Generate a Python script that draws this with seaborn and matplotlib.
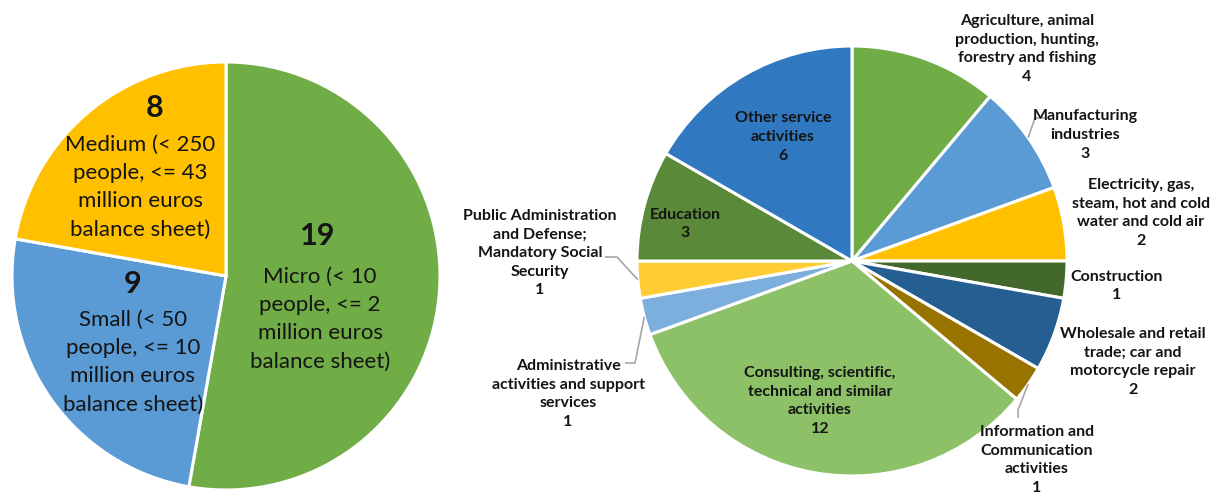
import matplotlib
matplotlib.use("Agg")
import matplotlib.pyplot as plt
import numpy as np
import seaborn as sns

# ---- data ----
size_labels = [
    "Micro (< 10\npeople, <= 2\nmillion euros\nbalance sheet)",
    "Small (< 50\npeople, <= 10\nmillion euros\nbalance sheet)",
    "Medium (< 250\npeople, <= 43\nmillion euros\nbalance sheet)",
]
size_counts = [19, 9, 8]

sector_labels = [
    "Agriculture, animal\nproduction, hunting,\nforestry and fishing",
    "Manufacturing\nindustries",
    "Electricity, gas,\nsteam, hot and cold\nwater and cold air",
    "Construction",
    "Wholesale and retail\ntrade; car and\nmotorcycle repair",
    "Information and\nCommunication\nactivities",
    "Consulting, scientific,\ntechnical and similar\nactivities",
    "Administrative\nactivities and support\nservices",
    "Public Administration\nand Defense;\nMandatory Social\nSecurity",
    "Education",
    "Other service\nactivities",
]
sector_counts = [4, 3, 2, 1, 2, 1, 12, 1, 1, 3, 6]

# ---- styling ----
size_colors = ["#70AD47", "#5B9BD5", "#FFC000"]
sector_colors = ["#70AD47", "#5B9BD5", "#FFC000", "#43682B", "#255E91", "#997300",
                 "#8CC168", "#7CAFDD", "#FFCD33", "#5A8A39", "#3079C0"]

W, H = 1219, 497

sns.set_theme(style="white")
plt.rcParams["font.family"] = ["Lato", "DejaVu Sans"]

fig = plt.figure(figsize=(W / 100, H / 100), dpi=100)
ax = fig.add_axes([0, 0, 1, 1])

def flip(y):
    return H - y

# pie geometry (pixel units, image-style y)
left_c, left_r = (226, 276), 214
right_c, right_r = (852, 261), 215

wp = dict(edgecolor="white", linewidth=2.2)
ax.pie(size_counts, colors=size_colors, startangle=90, counterclock=False,
       center=(left_c[0], flip(left_c[1])), radius=left_r, wedgeprops=wp)
ax.pie(sector_counts, colors=sector_colors, startangle=90, counterclock=False,
       center=(right_c[0], flip(right_c[1])), radius=right_r, wedgeprops=wp)

ax.set_xlim(0, W)
ax.set_ylim(0, H)
ax.set_aspect("auto")
ax.axis("off")

txt_color = "#141414"

# left pie labels: bold count above the description
left_pos = [(318, 236, 320, 319), (133, 284, 133, 362), (155, 108, 140, 187)]
for lab, val, (nx, ny, tx, ty) in zip(size_labels, size_counts, left_pos):
    ax.text(nx, flip(ny), str(val), ha="center", va="center", fontsize=22,
            fontweight="bold", color=txt_color)
    ax.text(tx, flip(ty), lab, ha="center", va="center", fontsize=16,
            color=txt_color, linespacing=1.52)

# right pie labels (centres in pixel layout)
right_pos = [
    (1027, 49), (1085, 135), (1141, 213), (1117, 286), (1133, 362),
    (1037, 460), (820, 401), (568, 394), (540, 253), (685, 224), (783, 137),
]
for lab, val, (x, y) in zip(sector_labels, sector_counts, right_pos):
    ax.text(x, flip(y), f"{lab}\n{val}", ha="center", va="center", fontsize=11.5,
            fontweight="bold", color=txt_color, linespacing=1.42)

# leader lines from wedge edge to label
total = sum(sector_counts)
cum = np.cumsum([0] + sector_counts)
def edge_point(i):
    mid = 90 - 360 * (cum[i] + sector_counts[i] / 2) / total
    a = np.deg2rad(mid)
    return right_c[0] + right_r * np.cos(a), right_c[1] - right_r * np.sin(a)

leaders = {1: [(1035, 118), (1045, 118)],
           5: [(1018, 410), (1018, 418)],
           7: [(635, 363), (625, 363)],
           8: [(617, 257), (605, 257)]}
for i, pts in leaders.items():
    x0, y0 = edge_point(i)
    xs = [x0] + [p[0] for p in pts]
    ys = [flip(y0)] + [flip(p[1]) for p in pts]
    ax.plot(xs, ys, color="#A6A6A6", lw=1.2, solid_capstyle="butt")

fig.savefig("out.png", dpi=100, facecolor="white")
